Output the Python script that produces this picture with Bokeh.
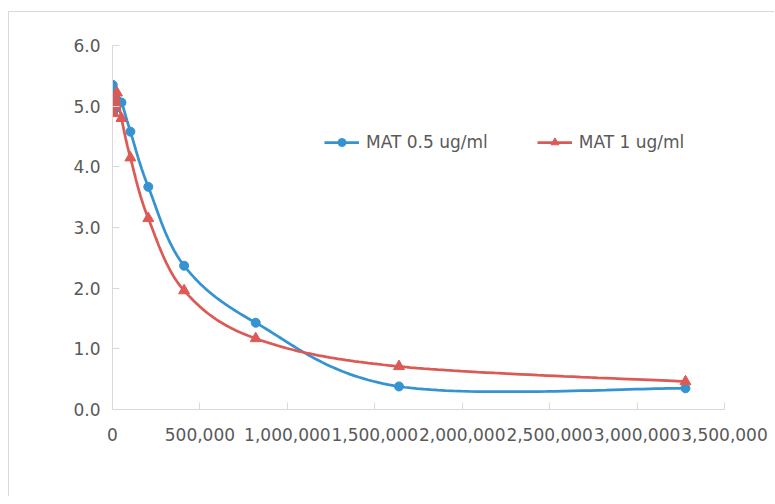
import numpy as np
from bokeh.plotting import figure
from bokeh.models import (Range1d, FixedTicker, NumeralTickFormatter, Legend, LegendItem)
from bokeh.embed import file_html
from bokeh.resources import INLINE

# ---- data ----
dilution = [1600, 3200, 6400, 12800, 25600, 51200, 102400, 204800, 409600, 819200, 1638400, 3276800]
mat_05 = [5.35, 5.20, 5.05, 4.95, 5.10, 5.06, 4.58, 3.67, 2.37, 1.43, 0.38, 0.35]
mat_1 = [4.90, 5.05, 4.88, 5.00, 5.22, 4.80, 4.15, 3.15, 1.96, 1.17, 0.71, 0.46]
series_names = ["MAT 0.5 ug/ml", "MAT 1 ug/ml"]
x_ticks = [0, 500000, 1000000, 1500000, 2000000, 2500000, 3000000, 3500000]
y_ticks = [0, 1, 2, 3, 4, 5, 6]

XMAX, YMAX = 3500000, 6.0
FW, FH = 612, 364
BLUE = "#3593d1"
RED = "#dc5a56"
AXC = "#d9d9d9"
TXT = "#595959"
FONT = "DejaVu Sans"


def smooth(xs, ys, n=40):
    # Excel-like smoothed line (Catmull-Rom Bezier) computed in screen space
    px = np.asarray(xs, float) / XMAX * FW
    py = np.asarray(ys, float) / YMAX * FH
    pts = np.column_stack([px, py])
    m = len(pts)
    out = [pts[0]]
    t = np.linspace(0, 1, n)[1:, None]
    for i in range(m - 1):
        p0 = pts[i - 1] if i > 0 else pts[i]
        p1, p2 = pts[i], pts[i + 1]
        p3 = pts[i + 2] if i + 2 < m else pts[i + 1]
        c1 = p1 + (p2 - p0) / 6.0
        c2 = p2 - (p3 - p1) / 6.0
        seg = ((1 - t) ** 3) * p1 + 3 * ((1 - t) ** 2) * t * c1 + 3 * (1 - t) * t ** 2 * c2 + t ** 3 * p2
        out.extend(seg)
    out = np.array(out)
    return out[:, 0] / FW * XMAX, out[:, 1] / FH * YMAX


p = figure(frame_width=FW, frame_height=FH,
           min_border_left=103, min_border_right=50, min_border_top=33, min_border_bottom=87,
           x_range=Range1d(0, XMAX), y_range=Range1d(0, YMAX),
           output_backend="svg", toolbar_location=None,
           styles={"border-top": "1px solid #d9d9d9", "border-left": "1px solid #d9d9d9",
                   "margin-top": "11px", "margin-left": "8px"})
p.outline_line_color = None
p.xgrid.visible = False
p.ygrid.visible = False
p.background_fill_color = "white"
p.border_fill_color = "white"

for ax in (p.xaxis[0], p.yaxis[0]):
    ax.axis_line_color = AXC
    ax.axis_line_width = 1
    ax.major_tick_line_color = AXC
    ax.major_tick_in = 7
    ax.major_tick_out = 0
    ax.minor_tick_line_color = None
    ax.major_label_text_color = TXT
    ax.major_label_text_font = FONT
    ax.major_label_text_font_size = "17px"

p.xaxis[0].ticker = FixedTicker(ticks=x_ticks)
p.xaxis[0].formatter = NumeralTickFormatter(format="0,0")
p.xaxis[0].major_label_standoff = 18
p.yaxis[0].ticker = FixedTicker(ticks=y_ticks)
p.yaxis[0].formatter = NumeralTickFormatter(format="0.0")
p.yaxis[0].major_label_standoff = 12

bx, by = smooth(dilution, mat_05)
rx, ry = smooth(dilution, mat_1)

l1 = p.line(bx, by, line_color=BLUE, line_width=2.75)
s1 = p.scatter(dilution, mat_05, marker="circle", size=9, fill_color=BLUE, line_color=BLUE)
l2 = p.line(rx, ry, line_color=RED, line_width=2.75)
s2 = p.scatter(dilution, mat_1, marker="triangle", size=11, fill_color=RED, line_color=RED)

legend = Legend(items=[LegendItem(label=series_names[0], renderers=[l1, s1]),
                       LegendItem(label=series_names[1], renderers=[l2, s2])],
                location=(212, 257), orientation="horizontal",
                glyph_width=35, glyph_height=20, label_standoff=7, spacing=49,
                padding=0, margin=0, border_line_color=None, background_fill_alpha=0,
                label_text_font=FONT, label_text_font_size="17px", label_text_color=TXT,
                label_text_baseline="middle")
p.add_layout(legend)

open("out.html", "w").write(file_html(p, INLINE))
